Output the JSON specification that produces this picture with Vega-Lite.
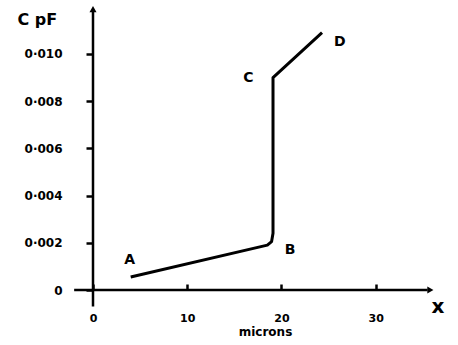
{
  "$schema": "https://vega.github.io/schema/vega-lite/v6.json",
  "width": 344,
  "height": 288,
  "autosize": {"type": "none"},
  "padding": {"left": 93, "top": 2, "right": 21, "bottom": 55},
  "config": {"view": {"stroke": null}, "font": "DejaVu Sans"},
  "datasets": {
    "axes": [
      {"x1": -2, "x2": 35.5, "y1": 0, "y2": 0},
      {"x1": 0, "x2": 0, "y1": -0.0007, "y2": 0.0118}
    ],
    "curve": [
      {"i": 1, "x": 4.0, "y": 0.00055},
      {"i": 2, "x": 18.5, "y": 0.0019},
      {"i": 3, "x": 18.95, "y": 0.00205},
      {"i": 4, "x": 19.1, "y": 0.0024},
      {"i": 5, "x": 19.1, "y": 0.009},
      {"i": 6, "x": 24.3, "y": 0.0109}
    ],
    "points": [
      {"label": "A", "x": 3.9, "y": 0.00125},
      {"label": "B", "x": 20.9, "y": 0.0017},
      {"label": "C", "x": 16.5, "y": 0.009},
      {"label": "D", "x": 26.2, "y": 0.0105}
    ],
    "xlab": [{"label": "x", "x": 36.6, "y": -0.0007}]
  },
  "layer": [
    {
      "data": {"name": "axes"},
      "mark": {"type": "rule", "strokeWidth": 2.5, "color": "black"},
      "encoding": {
        "x": {
          "field": "x1", "type": "quantitative",
          "scale": {"domain": [0, 36.5], "nice": false, "zero": false},
          "axis": {
            "values": [0, 10, 20, 30], "domain": false, "grid": false, "labelFlush": false,
            "tickSize": -6, "tickWidth": 2.5, "tickColor": "black",
            "labelFont": "DejaVu Sans", "labelFontWeight": "bold", "labelFontSize": 11,
            "labelColor": "black", "labelPadding": 28,
            "title": "microns", "titleFont": "DejaVu Sans", "titleFontWeight": "bold",
            "titleFontSize": 12, "titleColor": "black", "titlePadding": 3
          }
        },
        "x2": {"field": "x2"},
        "y": {
          "field": "y1", "type": "quantitative",
          "scale": {"domain": [0, 0.0122], "nice": false, "zero": false},
          "axis": {
            "values": [0, 0.002, 0.004, 0.006, 0.008, 0.01], "domain": false, "grid": false, "labelFlush": false,
            "tickSize": 7, "tickWidth": 2.5, "tickColor": "black",
            "labelExpr": "datum.value == 0 ? '0' : replace(format(datum.value, '.3f'), '.', '·')",
            "labelFont": "DejaVu Sans", "labelFontWeight": "bold", "labelFontSize": 12,
            "labelColor": "black", "labelPadding": 24,
            "title": "C pF", "titleAngle": 0, "titleAlign": "left", "titleBaseline": "alphabetic",
            "titleX": -76, "titleY": 22, "titleFont": "DejaVu Sans", "titleFontWeight": "bold",
            "titleFontSize": 16, "titleColor": "black"
          }
        },
        "y2": {"field": "y2"}
      }
    },
    {
      "data": {"name": "curve"},
      "mark": {"type": "line", "strokeWidth": 3, "color": "black", "strokeJoin": "round"},
      "encoding": {
        "x": {"field": "x", "type": "quantitative"},
        "y": {"field": "y", "type": "quantitative"},
        "order": {"field": "i"}
      }
    },
    {
      "data": {"values": [{"x": 0, "y": 0.0119}]},
      "mark": {"type": "point", "shape": "triangle-up", "filled": true, "color": "black", "size": 50, "opacity": 1},
      "encoding": {
        "x": {"field": "x", "type": "quantitative"},
        "y": {"field": "y", "type": "quantitative"}
      }
    },
    {
      "data": {"values": [{"x": 35.8, "y": 0}]},
      "mark": {"type": "point", "shape": "triangle-right", "filled": true, "color": "black", "size": 50, "opacity": 1},
      "encoding": {
        "x": {"field": "x", "type": "quantitative"},
        "y": {"field": "y", "type": "quantitative"}
      }
    },
    {
      "data": {"name": "points"},
      "mark": {"type": "text", "fontSize": 14, "fontWeight": "bold", "color": "black"},
      "encoding": {
        "x": {"field": "x", "type": "quantitative"},
        "y": {"field": "y", "type": "quantitative"},
        "text": {"field": "label"}
      }
    },
    {
      "data": {"name": "xlab"},
      "mark": {"type": "text", "fontSize": 20, "fontWeight": "bold", "color": "black"},
      "encoding": {
        "x": {"field": "x", "type": "quantitative"},
        "y": {"field": "y", "type": "quantitative"},
        "text": {"field": "label"}
      }
    }
  ]
}
